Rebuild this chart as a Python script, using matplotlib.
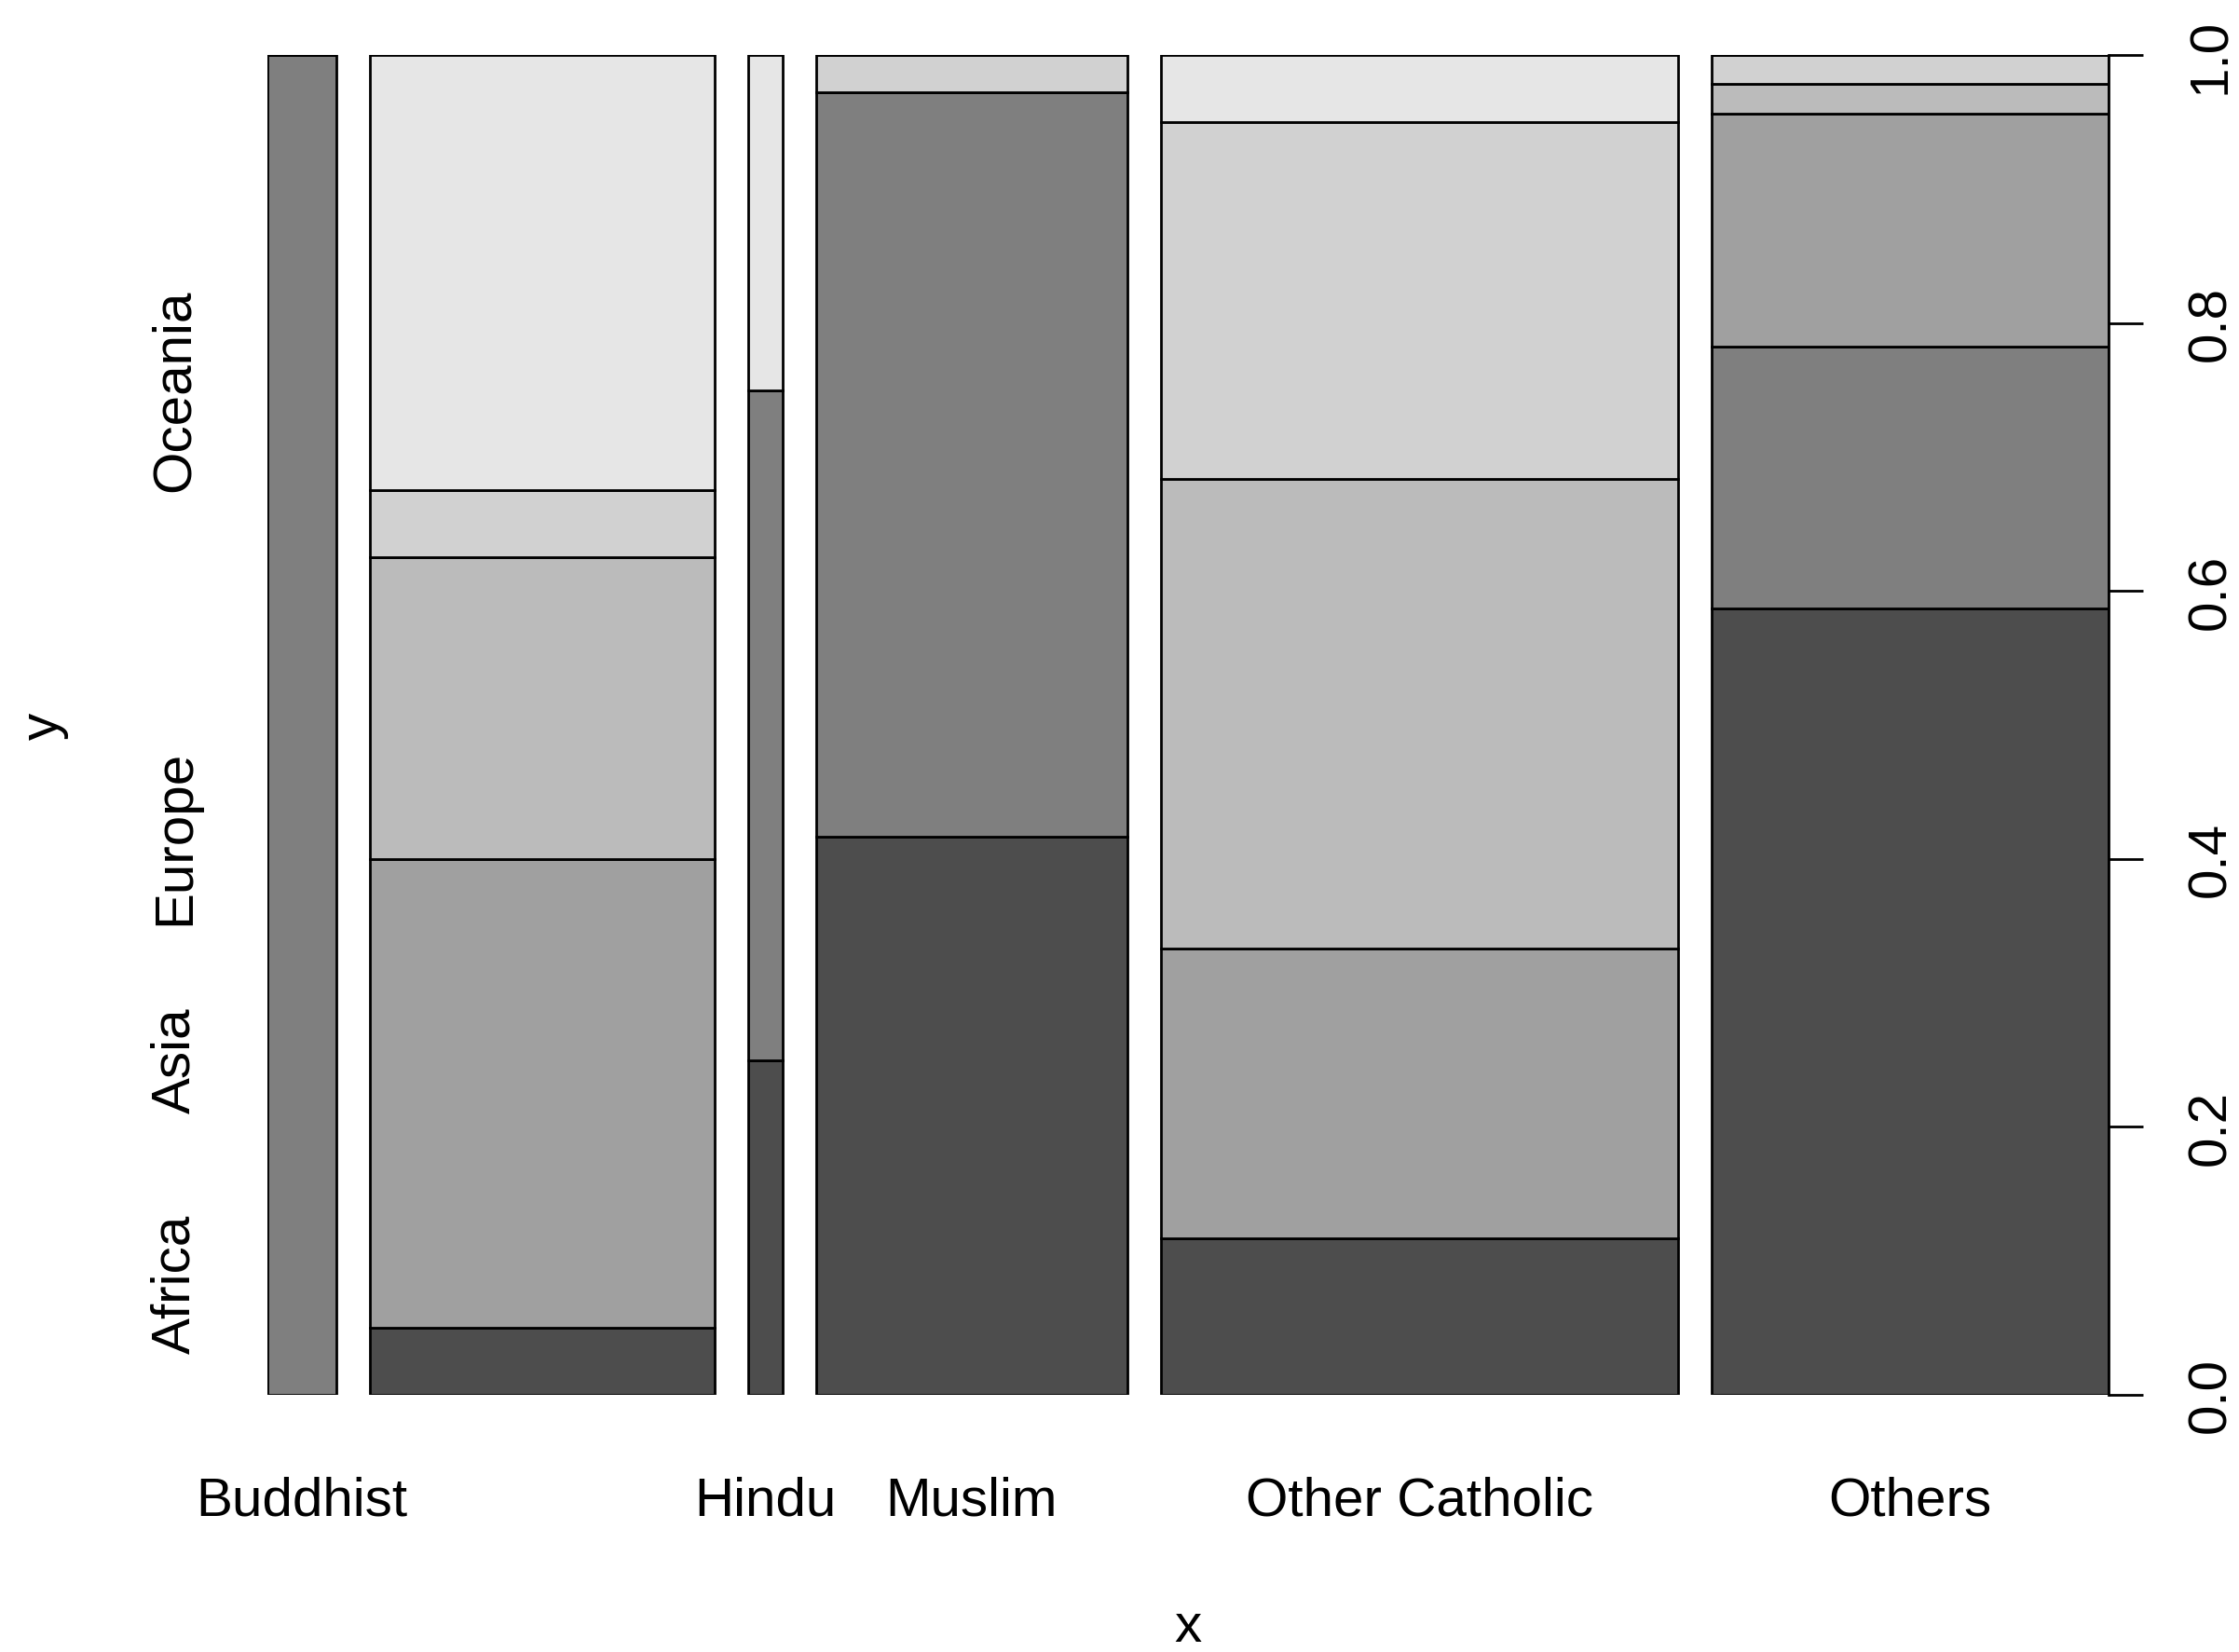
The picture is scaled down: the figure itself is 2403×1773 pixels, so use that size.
import numpy as np
import matplotlib
matplotlib.use("Agg")
import matplotlib.pyplot as plt
from matplotlib.transforms import blended_transform_factory

plt.rcParams["font.family"] = ["Liberation Sans", "DejaVu Sans"]

# Counts of countries by main religion (x) and region (y)
religions = ["Buddhist", "Roman Catholic", "Hindu", "Muslim", "Other Catholic", "Others"]
regions = ["Africa", "Asia", "Europe", "North America", "Oceania", "South America"]

buddhist = [0, 8, 0, 0, 0, 0]
roman_catholic = [2, 0, 14, 9, 2, 13]
hindu = [1, 2, 0, 0, 0, 1]
muslim = [15, 20, 0, 0, 1, 0]
other_catholic = [7, 0, 13, 21, 16, 3]
others = [27, 9, 8, 1, 1, 0]

y_ticks = [0.0, 0.2, 0.4, 0.6, 0.8, 1.0]
y_tick_labels = ["0.0", "0.2", "0.4", "0.6", "0.8", "1.0"]

fills = ["#4D4D4D", "#7F7F7F", "#A0A0A0", "#BBBBBB", "#D1D1D1", "#E6E6E6"]

W, H, DPI = 2403, 1774, 200
FS = 21
LW = 1.0

fig = plt.figure(figsize=(W / DPI, H / DPI), dpi=DPI)
ax = fig.add_axes([287 / W, 1 - 1498 / H, (2263 - 287) / W, (1498 - 60) / H])

tab = np.array([buddhist, roman_catholic, hindu, muslim, other_catholic, others], float)
gap = 0.02
widths = tab.sum(axis=1) / tab.sum()
lefts = np.concatenate([[0.0], np.cumsum(widths + gap)[:-1]])
props = tab / tab.sum(axis=1, keepdims=True)
bottoms = np.cumsum(props, axis=1) - props

for j in range(len(regions)):
    ax.bar(lefts, props[:, j], width=widths, bottom=bottoms[:, j], align="edge",
           color=fills[j], edgecolor="black", linewidth=LW)

ax.set_xlim(0, lefts[-1] + widths[-1])
ax.set_ylim(0, 1)

for side in ("top", "left", "bottom"):
    ax.spines[side].set_visible(False)
ax.spines["right"].set_bounds(0, 1)
ax.spines["right"].set_linewidth(LW)
ax.set_xticks([])
ax.yaxis.tick_right()
ax.set_yticks(y_ticks)
ax.tick_params(axis="y", length=13.3, width=LW, labelright=False)

px_x = blended_transform_factory(fig.transFigure, ax.transData)
px_y = blended_transform_factory(ax.transData, fig.transFigure)

# right-hand axis labels, parallel to the axis
for v, lab in zip(y_ticks, y_tick_labels):
    ax.text(2388 / W, v, lab, transform=px_x, rotation=90, rotation_mode="anchor",
            ha="center", va="baseline", fontsize=FS, clip_on=False)

renderer = fig.canvas.get_renderer()


def place_without_overlap(texts, axis, pad):
    last = None
    for t in texts:
        bb = t.get_window_extent(renderer)
        lo, hi = (bb.x0, bb.x1) if axis == "x" else (bb.y0, bb.y1)
        if last is not None and lo < last + pad:
            t.remove()
            continue
        last = hi


# category labels under each bar
centers = lefts + widths / 2
xlabs = [ax.text(c, 1 - 1627 / H, name, transform=px_y, ha="center", va="baseline",
                 fontsize=FS, clip_on=False) for c, name in zip(centers, religions)]
place_without_overlap(xlabs, "x", 20)

# region labels on the left, equally spaced
ypos = (np.arange(len(regions)) + 0.5) / len(regions)
ylabs = [ax.text(203 / W, p, name, transform=px_x, rotation=90, rotation_mode="anchor",
                 ha="center", va="baseline", fontsize=FS, clip_on=False)
         for p, name in zip(ypos, regions)]
place_without_overlap(ylabs, "y", 20)

fig.text(ax.get_position().x0 + ax.get_position().width / 2, 1 - 1762 / H, "x",
         ha="center", va="baseline", fontsize=FS)
fig.text(62 / W, ax.get_position().y0 + ax.get_position().height / 2, "y",
         rotation=90, rotation_mode="anchor", ha="center", va="baseline", fontsize=FS)

fig.savefig("out.png", dpi=DPI)
